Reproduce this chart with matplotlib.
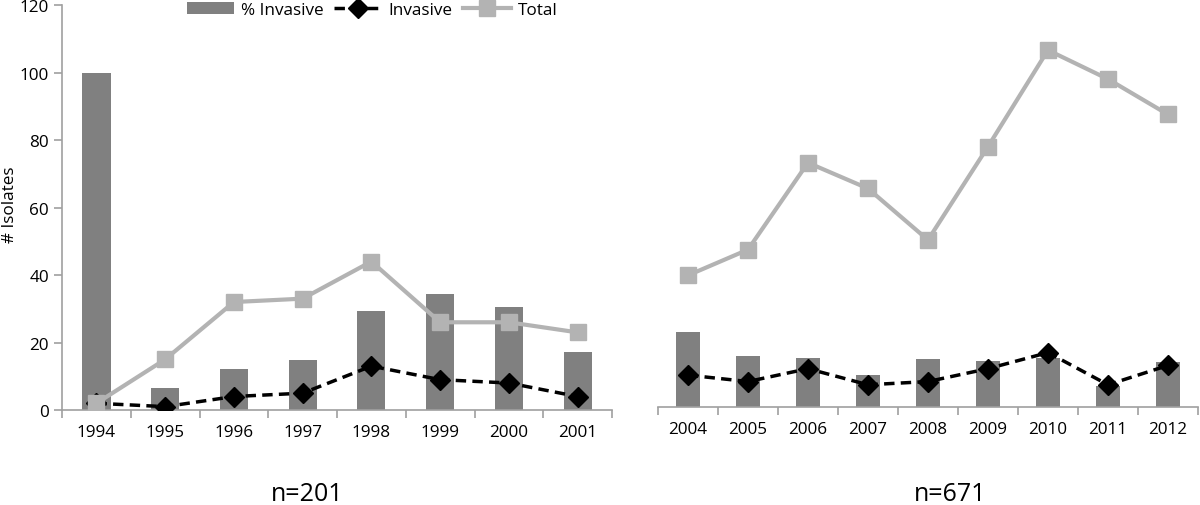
import numpy as np
import matplotlib
matplotlib.use("Agg")
from matplotlib import pyplot as plt

plt.rcParams["font.family"] = ["Open Sans", "DejaVu Sans"]

# Period 1: 1994-2001
years_a = ["1994", "1995", "1996", "1997", "1998", "1999", "2000", "2001"]
pct_a = [100, 6.4, 12.1, 14.9, 29.2, 34.4, 30.4, 17.1]
invasive_a = [2, 1, 4, 5, 13, 9, 8, 4]
total_a = [2, 15, 32, 33, 44, 26, 26, 23]

# Period 2: 2004-2012
years_b = ["2004", "2005", "2006", "2007", "2008", "2009", "2010", "2011", "2012"]
pct_b = [23.5, 15.8, 15.3, 10.0, 15.0, 14.5, 15.2, 6.7, 14.0]
invasive_b = [10, 8, 12, 7, 8, 12, 17, 7, 13]
total_b = [41, 49, 76, 68, 52, 81, 111, 102, 91]

BAR = "#808080"
TOT = "#b3b3b3"
SPINE = "#a0a0a0"
FS = 12.3

fig = plt.figure(figsize=(12, 5.06), dpi=100)
ax1 = fig.add_axes([0.0517, 0.1877, 0.4583, 0.8004])
ax2 = fig.add_axes([0.5483, 0.1931, 0.45, 0.7949])


def draw(ax, years, pct, inv, tot):
    x = np.arange(len(years))
    bars = ax.bar(x, pct, width=0.41, color=BAR, label="% Invasive", zorder=2)
    ln, = ax.plot(x, inv, color="black", lw=2.5, marker="D", markersize=10,
                  label="Invasive", zorder=3)
    ln.set_dashes([3, 1.8])
    lt, = ax.plot(x, tot, color=TOT, lw=3, marker="s", markersize=11,
                  label="Total", zorder=4)
    ax.set_xlim(-0.5, len(years) - 0.5)
    ax.set_xticks(x)
    ax.set_xticklabels(years)
    ax.set_xticks(np.arange(len(years) + 1) - 0.5, minor=True)
    ax.tick_params(axis="x", which="major", length=0, pad=10, labelsize=FS)
    ax.tick_params(axis="x", which="minor", length=6, color=SPINE, width=1.2)
    for s in ["top", "right"]:
        ax.spines[s].set_visible(False)
    ax.spines["bottom"].set_color(SPINE)
    ax.spines["bottom"].set_linewidth(1.2)
    return [bars, ln, lt]


handles = draw(ax1, years_a, pct_a, invasive_a, total_a)
draw(ax2, years_b, pct_b, invasive_b, total_b)

ax1.set_ylim(0, 120)
ax1.set_yticks(range(0, 121, 20))
ax1.tick_params(axis="y", length=6, color=SPINE, width=1.2, labelsize=FS)
ax1.spines["left"].set_color(SPINE)
ax1.spines["left"].set_linewidth(1.2)

# y label placed in figure pixels so it is not clipped
fig.text(10 / 1200, 1 - 205 / 506, "# Isolates", fontsize=FS, rotation=90,
         ha="center", va="center")

ax2.set_ylim(0, 125)
ax2.spines["left"].set_visible(False)
ax2.set_yticks([])

fig.legend(handles, ["% Invasive", "Invasive", "Total"], loc="center",
           bbox_to_anchor=(0.31, 0.978), ncol=3, frameon=False, fontsize=FS,
           handlelength=2.8, handletextpad=0.4, columnspacing=0.6,
           borderaxespad=0)

fig.text(0.2556, 0.022, "n=201", fontsize=18, ha="center", va="center")
fig.text(0.7917, 0.022, "n=671", fontsize=18, ha="center", va="center")

fig.savefig("out.png", dpi=100)
